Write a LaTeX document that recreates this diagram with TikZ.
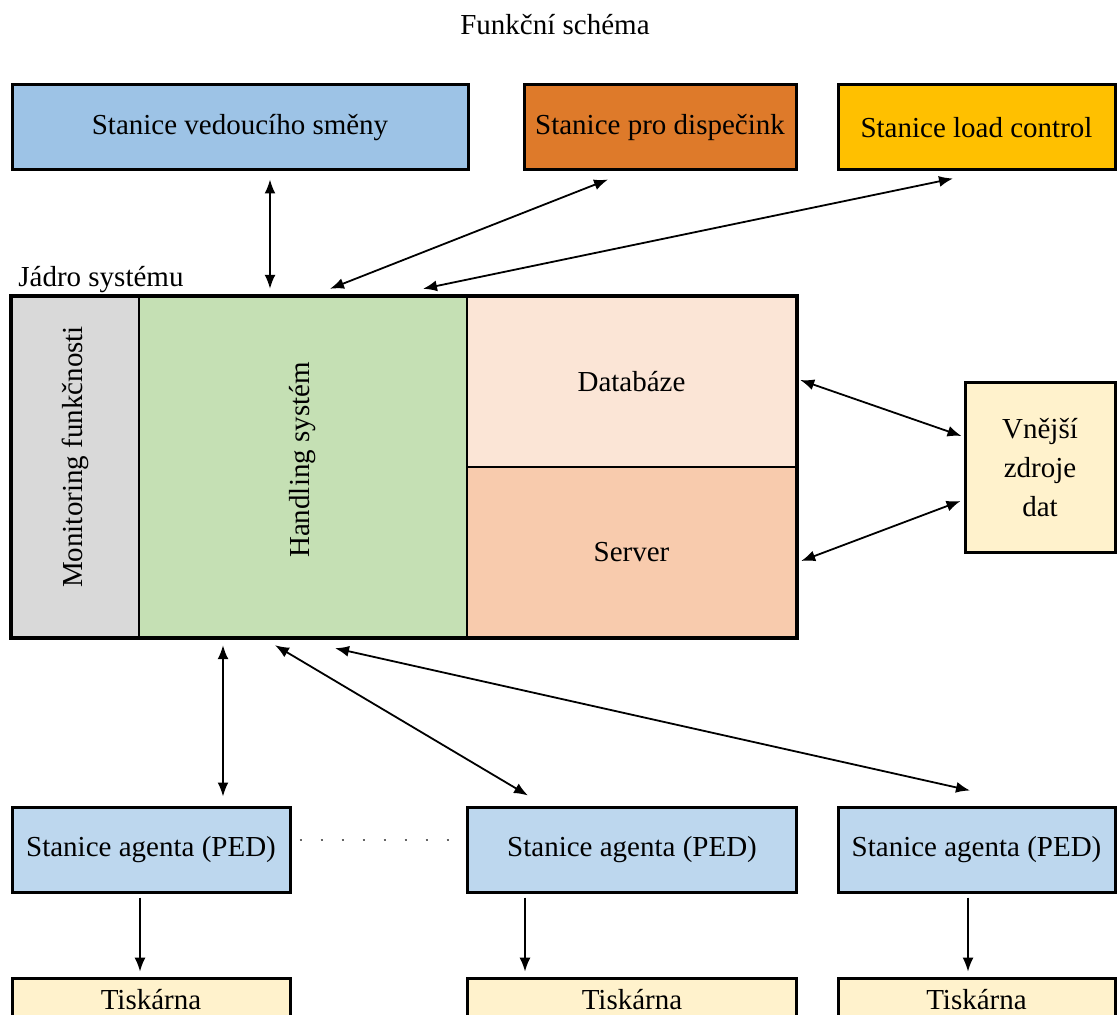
\documentclass[tikz,border=0pt]{standalone}
\usepackage{fontspec}
\setmainfont{Liberation Serif}
\usetikzlibrary{arrows.meta}

\definecolor{shiftblue}{HTML}{9DC3E6}
\definecolor{dispatch}{HTML}{DE7A2A}
\definecolor{loadgold}{HTML}{FFC000}
\definecolor{agentblue}{HTML}{BDD7EE}
\definecolor{paleyellow}{HTML}{FFF2CC}
\definecolor{monitorgray}{HTML}{D9D9D9}
\definecolor{handlgreen}{HTML}{C5E0B4}
\definecolor{dbpink}{HTML}{FBE5D6}
\definecolor{serverpeach}{HTML}{F8CBAD}

\tikzset{%
  box/.style = {
    shape=rectangle, draw, line width=1.5pt, inner sep=0pt,
    align=center, font=\fontsize{14.5}{19.5}\selectfont
  },
  part/.style = {box, line width=1.2pt},
  link/.style = {draw, line width=0.9pt, {Latex[length=7pt,width=5.5pt]}-{Latex[length=7pt,width=5.5pt]}},
  feed/.style = {draw, line width=0.7pt, -{Latex[length=7pt,width=5.5pt]}}
}

\begin{document}
\begin{tikzpicture}[x=0.5pt, y=-0.5pt]
  \useasboundingbox (0,0) rectangle (1118,1015);
  \clip (0,0) rectangle (1118,1015);

  \node[font=\fontsize{14.5}{17}\selectfont] (title) at (555,25) {Funkční schéma};

  % horni stanice
  \node[box, fill=shiftblue, minimum width=228pt, minimum height=42.5pt] (vedouci) at (240,127.5) {Stanice vedoucího směny};
  \node[box, fill=dispatch, minimum width=136pt, minimum height=42.5pt] (dispecink) at (660,127.5) {Stanice pro dispečink};
  \node[box, fill=loadgold, minimum width=138.5pt, minimum height=42.5pt] (loadctl) at (976.5,127.5) {Stanice load control};

  % jadro
  \node[font=\fontsize{14.5}{17}\selectfont, anchor=base west, inner sep=0pt] (jadro) at (18,287) {Jádro systému};
  \node[part, fill=monitorgray, minimum width=63.5pt, minimum height=170pt] (monitor) at (75.5,467) {};
  \node[part, fill=handlgreen, minimum width=164pt, minimum height=170pt] (handling) at (303,467) {};
  \node[part, fill=dbpink, minimum width=164.5pt, minimum height=85pt] (databaze) at (631.5,382) {Databáze};
  \node[part, fill=serverpeach, minimum width=164.5pt, minimum height=85pt] (server) at (631.5,552) {Server};
  \draw[line width=1.5pt] (monitor.north west) rectangle (server.south east);
  \node[box, draw=none, rotate=90] (montext) at ([yshift=5pt]monitor.center) {Monitoring funkčnosti};
  \node[box, draw=none, rotate=90] (handtext) at ([yshift=3.5pt]handling.center) {Handling systém};

  \node[box, fill=paleyellow, minimum width=75pt, minimum height=84.5pt] (vnejsi) at (1040,467.5) {Vnější\\zdroje\\dat};

  % agenti a tiskarny
  \node[box, fill=agentblue, minimum width=139pt, minimum height=42.5pt] (agent1) at (151,849.5) {Stanice agenta (PED)};
  \node[box, fill=agentblue, minimum width=164.5pt, minimum height=42.5pt] (agent2) at (632,849.5) {Stanice agenta (PED)};
  \node[box, fill=agentblue, minimum width=138.5pt, minimum height=42.5pt] (agent3) at (976.5,849.5) {Stanice agenta (PED)};
  \node[box, fill=paleyellow, minimum width=139pt, minimum height=22pt] (tisk1) at (151,1000) {Tiskárna};
  \node[box, fill=paleyellow, minimum width=164.5pt, minimum height=22pt] (tisk2) at (632,1000) {Tiskárna};
  \node[box, fill=paleyellow, minimum width=138.5pt, minimum height=22pt] (tisk3) at (976.5,1000) {Tiskárna};

  % spojeni
  \draw[link] ([xshift=15pt,yshift=-4pt]vedouci.south) -- ([xshift=-16.5pt,yshift=3.5pt]handling.north);
  \draw[link] ([xshift=-26pt,yshift=-4pt]dispecink.south) -- ([xshift=13.5pt,yshift=3.5pt]handling.north);
  \draw[link] ([xshift=-11.75pt,yshift=-3.5pt]loadctl.south) -- ([xshift=60pt,yshift=3.5pt]handling.north);
  \draw[link] ([xshift=1.5pt,yshift=1pt]databaze.east) -- ([xshift=-1pt,yshift=15.75pt]vnejsi.west);
  \draw[link] ([xshift=2pt,yshift=-4.5pt]server.east) -- ([xshift=-1.5pt,yshift=-16.75pt]vnejsi.west);
  \draw[link] ([xshift=-40pt,yshift=-3.5pt]handling.south) -- ([xshift=36pt,yshift=4.5pt]agent1.north);
  \draw[link] ([xshift=-14pt,yshift=-3.5pt]handling.south) -- ([xshift=-52pt,yshift=5pt]agent2.north);
  \draw[link] ([xshift=16pt,yshift=-5pt]handling.south) -- ([xshift=-3.25pt,yshift=7.5pt]agent3.north);

  \draw[feed] ([xshift=-5.5pt,yshift=-2pt]agent1.south) -- ([xshift=-5.5pt,yshift=2.5pt]tisk1.north);
  \draw[feed] ([xshift=-53.5pt,yshift=-2pt]agent2.south) -- ([xshift=-53.5pt,yshift=2.5pt]tisk2.north);
  \draw[feed] ([xshift=-4.25pt,yshift=-2pt]agent3.south) -- ([xshift=-4.25pt,yshift=2.5pt]tisk3.north);

  \draw[gray!80!black, line width=1pt, dash pattern=on 1pt off 9.5pt] ([xshift=4pt,yshift=4.75pt]agent1.east) -- ([xshift=-7pt,yshift=4.75pt]agent2.west);
\end{tikzpicture}
\end{document}
